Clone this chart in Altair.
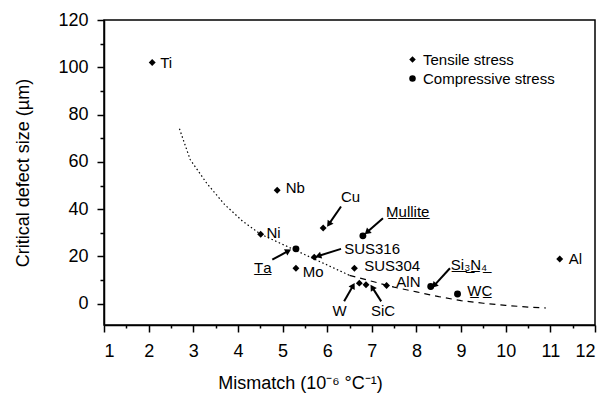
import math
import altair as alt
import pandas as pd

# ---- data ----
materials = ["Ti", "Nb", "Ni", "Ta", "Mo", "SUS316", "Cu", "Mullite", "SUS304",
             "W", "SiC", "AlN", "Si3N4", "WC", "Al"]
mismatch = [2.08, 4.88, 4.51, 5.30, 5.30, 5.71, 5.91, 6.80, 6.61,
            6.72, 6.87, 7.33, 8.32, 8.92, 11.21]
defect = [102, 48, 29.4, 23.2, 15, 19.7, 32, 28.7, 15,
          8.7, 8.0, 7.7, 7.3, 4.1, 18.9]
stress = ["Tensile stress", "Tensile stress", "Tensile stress", "Compressive stress",
          "Tensile stress", "Tensile stress", "Tensile stress", "Compressive stress",
          "Tensile stress", "Tensile stress", "Tensile stress", "Tensile stress",
          "Compressive stress", "Compressive stress", "Tensile stress"]

label_text = ["Ti", "Nb", "Ni", "T\u0332a\u0332", "Mo", "SUS316", "Cu",
              "M\u0332u\u0332l\u0332l\u0332i\u0332t\u0332e\u0332", "SUS304", "W", "SiC", "AlN",
              "S\u0332i\u0332\u2083\u0332N\u0332\u2084\u0332", "W\u0332C\u0332", "Al"]
label_x = [2.26, 5.07, 4.64, 4.36, 5.45, 6.38, 6.31, 7.32, 6.83, 6.12, 6.98, 7.55, 8.77, 9.14, 11.41]
label_y = [102, 49, 29.8, 15, 13.6, 23.2, 45, 39, 15.8, -3.2, -3.2, 9.1, 16.5, 5.2, 18.9]

# arrows: tail (near label) -> head (at point)
arrow_tail_x = [6.31, 7.25, 6.31, 4.77, 6.38, 7.21, 8.75]
arrow_tail_y = [41.1, 36.2, 23.2, 18.6, 1.0, 1.0, 15.0]
arrow_head_x = [6.05, 6.91, 5.82, 5.11, 6.57, 7.02, 8.41]
arrow_head_y = [34.0, 30.5, 20.3, 22.1, 7.3, 6.6, 8.0]

# trend curve read along the dotted / dashed line
curve_x = [2.69, 2.93, 3.3, 3.7, 4.1, 4.5, 4.9, 5.3, 5.7, 6.1, 6.5,
           7.0, 7.5, 8.0, 8.5, 9.0, 9.5, 10.0, 10.5, 10.9]
curve_y = [74, 61, 51, 42, 35, 29.5, 26, 22.5, 19, 15.5, 12,
           9.5, 7, 5, 3, 1.3, 0.2, -0.7, -1.4, -1.8]

x_ticks = list(range(1, 13))
x_minor = [v + 0.5 for v in range(1, 12)]
y_ticks = [0, 20, 40, 60, 80, 100, 120]
y_minor = [10, 30, 50, 70, 90, 110]

# ---- layout ----
W, H = 491, 305
XDOM = [1, 12]
YDOM = [-9, 120]
kx = W / (XDOM[1] - XDOM[0])
ky = H / (YDOM[1] - YDOM[0])
FONT = "Liberation Sans"

pts = pd.DataFrame({"m": materials, "x": mismatch, "y": defect, "stress": stress})
labs = pd.DataFrame({"t": label_text, "x": label_x, "y": label_y})
angles = []
for tx, ty, hx, hy in zip(arrow_tail_x, arrow_tail_y, arrow_head_x, arrow_head_y):
    dxp = (hx - tx) * kx
    dyp = -(hy - ty) * ky
    angles.append(math.degrees(math.atan2(dxp, -dyp)) % 360)
arr = pd.DataFrame({"x": arrow_tail_x, "y": arrow_tail_y,
                    "x2": arrow_head_x, "y2": arrow_head_y, "a": angles})
crv = pd.DataFrame({"x": curve_x, "y": curve_y})
crv1 = crv[crv.x <= 6.5]
crv2 = crv[crv.x >= 6.5]

xs = alt.Scale(domain=XDOM, nice=False, zero=False)
ys = alt.Scale(domain=YDOM, nice=False, zero=False)

x_axis = alt.Axis(values=x_ticks, title="Mismatch (10\u207b\u2076 \u00b0C\u207b\u00b9)", grid=False,
                  tickSize=7, tickWidth=1.5, labelPadding=10, titlePadding=14,
                  labelFontSize=18, titleFontSize=18, labelFont=FONT, titleFont=FONT,
                  titleFontWeight="normal", domainWidth=1.5, orient="bottom",
                  titleX=196, titleAlign="center")
y_axis = alt.Axis(values=y_ticks, title="Critical defect size (\u00b5m)", grid=False,
                  tickSize=7, tickWidth=1.5, labelPadding=9, titlePadding=25,
                  labelFontSize=18, titleFontSize=18, labelFont=FONT, titleFont=FONT,
                  titleFontWeight="normal", domainWidth=1.5, orient="left")

base_points = alt.Chart(pts).mark_point(filled=True, size=48, opacity=1, color="black").encode(
    x=alt.X("x:Q", scale=xs, axis=x_axis),
    y=alt.Y("y:Q", scale=ys, axis=y_axis),
    shape=alt.Shape("stress:N",
                    scale=alt.Scale(domain=["Tensile stress", "Compressive stress"],
                                    range=["diamond", "circle"]),
                    legend=alt.Legend(title=None, orient="none", legendX=301, legendY=32,
                                      labelFontSize=15, labelFont=FONT, symbolSize=42,
                                      symbolFillColor="black", symbolStrokeColor="black",
                                      rowPadding=3, labelOffset=3)),
)

minor_x = alt.Chart(pd.DataFrame({"x": [1]})).mark_point(opacity=0).encode(
    x=alt.X("x:Q", scale=xs, axis=alt.Axis(values=x_minor, labels=False, title=None, grid=False,
                                           tickSize=3, tickWidth=1.5, domain=False, orient="bottom")),
)
minor_y = alt.Chart(pd.DataFrame({"y": [0]})).mark_point(opacity=0).encode(
    y=alt.Y("y:Q", scale=ys, axis=alt.Axis(values=y_minor, labels=False, title=None, grid=False,
                                           tickSize=4, tickWidth=1.5, domain=False, orient="left")),
)

line1 = alt.Chart(crv1).mark_line(color="black", strokeWidth=1.2, strokeDash=[1.5, 2.5]).encode(
    x=alt.X("x:Q", scale=xs, axis=None), y=alt.Y("y:Q", scale=ys, axis=None))
line2 = alt.Chart(crv2).mark_line(color="black", strokeWidth=1.2, strokeDash=[6, 5]).encode(
    x=alt.X("x:Q", scale=xs, axis=None), y=alt.Y("y:Q", scale=ys, axis=None))

shafts = alt.Chart(arr).mark_rule(color="black", strokeWidth=2).encode(
    x=alt.X("x:Q", scale=xs, axis=None), y=alt.Y("y:Q", scale=ys, axis=None),
    x2="x2:Q", y2="y2:Q")
heads = alt.Chart(arr).mark_point(shape="triangle", filled=True, size=50, opacity=1, color="black").encode(
    x=alt.X("x2:Q", scale=xs, axis=None), y=alt.Y("y2:Q", scale=ys, axis=None),
    angle=alt.Angle("a:Q", scale=None))

texts = alt.Chart(labs).mark_text(align="left", baseline="middle", fontSize=15, font=FONT,
                                  color="black").encode(
    x=alt.X("x:Q", scale=xs, axis=None), y=alt.Y("y:Q", scale=ys, axis=None), text="t:N")

chart = alt.layer(minor_x, minor_y, line1, line2, shafts, heads, base_points, texts).resolve_axis(
    x="independent", y="independent"
).properties(
    width=W, height=H,
    padding={"left": 104, "top": 20, "right": 12, "bottom": 79},
    autosize=alt.AutoSizeParams(type="none"),
).configure_view(stroke="black", strokeWidth=1.5).configure_axis(
    domainColor="black", tickColor="black", labelColor="black", titleColor="black"
)

chart.save("out.html", embed_options={"renderer": "svg", "actions": False})
